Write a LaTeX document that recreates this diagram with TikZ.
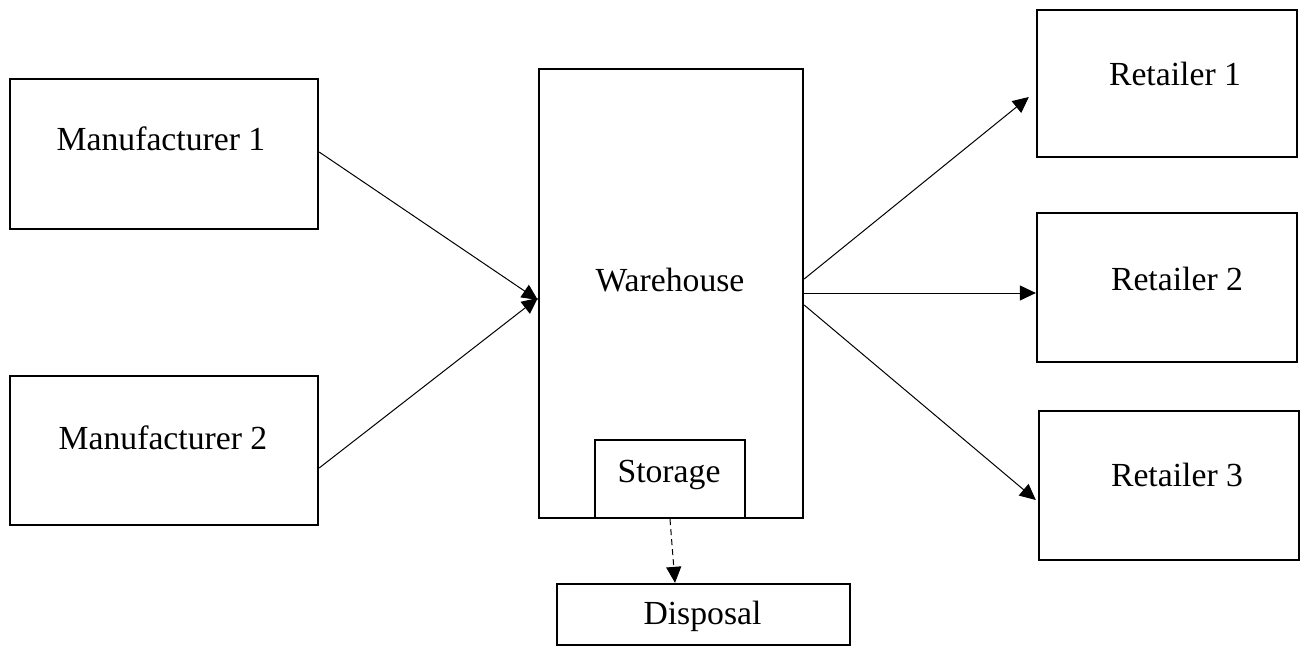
\documentclass[tikz,border=0pt]{standalone}
\usepackage{fontspec}
\setmainfont{Liberation Serif}
\usetikzlibrary{arrows.meta}
\begin{document}
\begin{tikzpicture}[x=1pt,y=-1pt,
  box/.style={draw,line width=2.3pt,inner sep=0pt,minimum width=#1},
  lbl/.style={font=\fontsize{33.7}{40}\selectfont},
  conn/.style={line width=1pt,-{Triangle[length=16pt,width=15pt]}},
  dconn/.style={conn,dash pattern=on 6pt off 4pt}]
\useasboundingbox (0,0) rectangle (1305,660);
\tikzset{every label/.style={lbl}}
\node[box=308pt,minimum height=150pt,label={[xshift=-3pt,yshift=15pt]center:Manufacturer 1}] (m1) at (164,154) {};
\node[box=308pt,minimum height=149pt,label={[xshift=-1pt,yshift=13pt]center:Manufacturer 2}] (m2) at (164,450.5) {};
\node[box=264pt,minimum height=449pt,label={[xshift=-1pt,yshift=13pt]center:Warehouse}] (wh) at (671,293.5) {};
\node[box=150pt,minimum height=78pt,label={[xshift=-1pt,yshift=4pt]center:Storage}] (st) at (670,479) {};
\node[box=293pt,minimum height=61pt,label={[xshift=-1pt,yshift=-2pt]center:Disposal}] (dp) at (703.5,614.5) {};
\node[box=260pt,minimum height=147pt,label={[xshift=8pt,yshift=10pt]center:Retailer 1}] (r1) at (1167,83.5) {};
\node[box=260pt,minimum height=149pt,label={[xshift=10pt,yshift=9pt]center:Retailer 2}] (r2) at (1167,287.5) {};
\node[box=260pt,minimum height=149pt,label={[xshift=8pt,yshift=11pt]center:Retailer 3}] (r3) at (1169,485.5) {};
\draw[conn] ([yshift=2pt]m1.east) -- ([yshift=-6.5pt]wh.west);
\draw[conn] ([yshift=-17.5pt]m2.east) -- ([yshift=-4.5pt]wh.west);
\draw[conn] ([yshift=14.5pt]wh.east) -- ([shift={(-7pt,-13.5pt)}]r1.west);
\draw[conn] ([yshift=0.5pt]wh.east) -- ([yshift=-5.5pt]r2.west);
\draw[conn] ([yshift=-11.5pt]wh.east) -- ([shift={(-2pt,-14.5pt)}]r3.west);
\draw[dconn] (st.south) -- ([xshift=-28.5pt]dp.north);
\end{tikzpicture}
\end{document}
